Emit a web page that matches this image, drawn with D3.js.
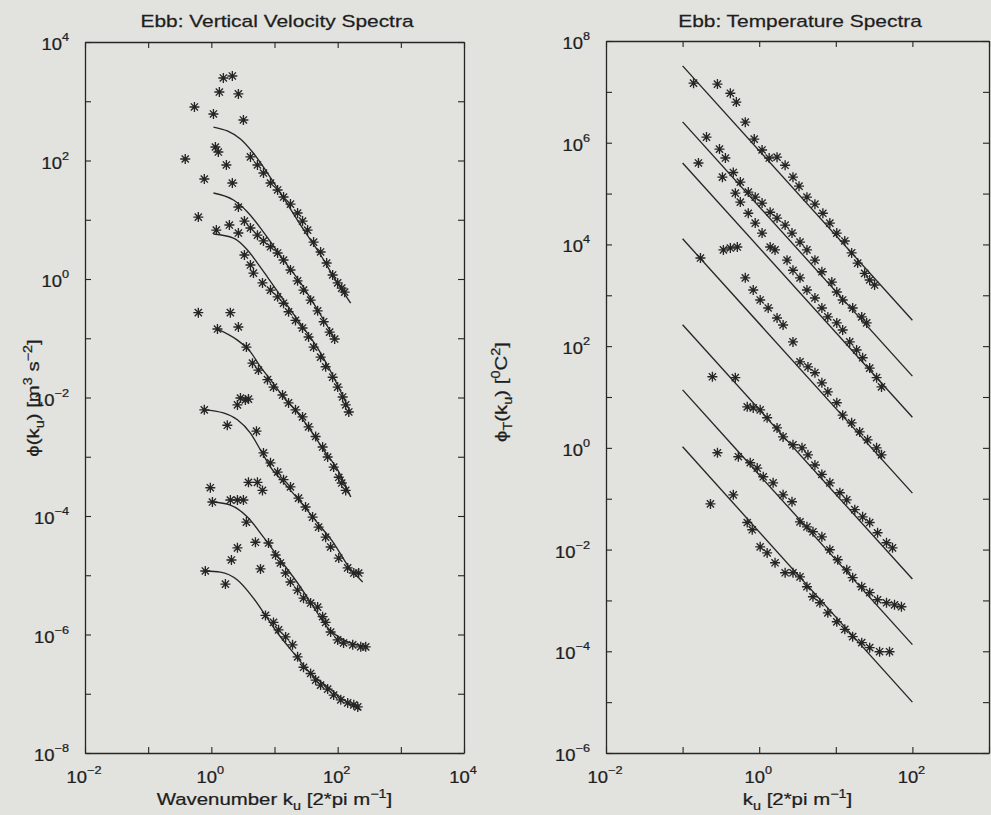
<!DOCTYPE html>
<html>
<head>
<meta charset="utf-8">
<script src="https://cdn.jsdelivr.net/npm/d3@7"></script>
<style>
  body { margin: 0; background: #e2e2de; }
  svg { display: block; }
  text { font-family: "Liberation Sans", Arial, sans-serif; fill: #1e1e1e; stroke: #1e1e1e; stroke-width: 0.25px; }
</style>
</head>
<body>
<svg id="fig" width="991" height="815"></svg>
<script>
// ---- left panel: vertical velocity spectra, [k, phi] ----
const vel1 = [[0.54,800],[1.08,610],[1.34,1430],[1.55,2470],[2.15,2670],[2.68,1330],[3.22,483],[4.16,115],[5.37,84],[6.69,61.5],[8.64,41.7],[11.2,31.8],[13.9,24.2],[17.9,18.4],[23.2,13.0],[27.8,9.5],[33.4,6.7],[41.6,4.2],[53.7,2.86],[66.9,1.86],[83.3,1.17],[100,0.86],[116,0.70],[129,0.60]];
const vel2 = [[0.386,106],[0.774,48.7],[1.16,169],[1.29,139],[1.73,84],[2.15,41.7],[2.68,16.4],[3.34,9.5],[4.16,7.26],[5.37,5.5],[6.69,4.4],[8.64,3.5],[11.2,2.75],[13.9,2.09],[17.9,1.42],[23.2,0.93],[28.8,0.65],[37.3,0.44],[48.2,0.29],[60,0.19],[74.6,0.127],[89.6,0.097]];
const vel3 = [[0.622,11.1],[1.20,6.7],[1.93,8.15],[2.68,5.97],[3.34,2.54],[4.16,1.72],[4.64,1.26],[6.45,0.86],[8.64,0.65],[11.2,0.50],[13.9,0.39],[16.7,0.28],[21.5,0.20],[27.8,0.149],[34.6,0.105],[41.6,0.071],[53.7,0.048],[64.5,0.033],[83.3,0.022],[100,0.015],[120,0.0102],[134,0.0075],[150,0.0057]];
const vel4 = [[0.622,0.27],[1.25,0.143],[2.0,0.27],[2.68,0.155],[3.59,0.071],[4.48,0.038],[5.57,0.029],[7.74,0.020],[9.64,0.015],[13.4,0.011],[16.7,0.0081],[21.5,0.0062],[27.8,0.0047],[34.6,0.0032],[44.8,0.0022],[57.8,0.00146],[69.4,0.00099],[86.4,0.00067],[104,0.00045],[116,0.00036],[134,0.00027]];
const vel5 = [[0.774,0.0062],[1.79,0.0034],[2.59,0.0075],[2.89,0.0098],[3.46,0.0091],[3.87,0.0094],[5.18,0.0027],[6.69,0.00116],[8.64,0.00079],[11.2,0.00055],[13.9,0.00041],[17.9,0.00031],[24.0,0.00020],[31.0,0.000142],[40.1,0.000096],[49.9,0.000065],[64.5,0.000044],[77.4,0.000030],[104,0.0000195],[144,0.0000133],[180,0.0000109],[215,0.0000109]];
const vel6 = [[0.964,0.0003],[1.04,0.000172],[2.0,0.000186],[2.59,0.000186],[3.22,0.000186],[3.87,0.00037],[5.37,0.00037],[6.45,0.00027],[3.59,0.000079],[4.99,0.000036],[8.03,0.000035],[10.4,0.000022],[12.4,0.0000161],[15.0,0.0000109],[17.9,0.0000077],[23.2,0.0000056],[28.8,0.0000041],[37.3,0.0000034],[48.2,0.0000029],[57.8,0.0000020],[64.5,0.0000016],[77.4,0.0000011],[100,0.00000081],[124,0.00000072],[173,0.00000067],[232,0.00000062],[278,0.00000062]];
const vel7 = [[0.803,0.0000118],[1.67,0.0000071],[2.08,0.0000181],[2.59,0.000029],[6.0,0.0000128],[7.2,0.0000021],[9.64,0.0000016],[11.6,0.0000012],[15.0,0.00000091],[19.3,0.00000067],[23.2,0.00000042],[28.8,0.00000028],[37.3,0.00000022],[44.8,0.00000017],[53.7,0.00000014],[69.4,0.00000012],[86.4,0.000000095],[112,0.000000079],[144,0.00000007],[180,0.000000065],[208,0.00000006]];

// model curves through the velocity spectra
const velFit1 = [[1.08,367],[1.79,315],[2.89,231],[4.48,139],[7.2,69],[12.4,28.3],[25.9,8.15],[53.7,2.54],[93,0.96],[161,0.39]];
const velFit2 = [[1.08,28.3],[2.24,21.5],[3.73,13.5],[6.69,6.2],[13.9,2.09],[25.9,0.86],[48.2,0.30],[93,0.093]];
const velFit3 = [[1.08,5.74],[2.24,4.9],[3.73,3.09],[5.37,1.86],[7.74,1.08],[13.9,0.44],[25.9,0.174],[48.2,0.068],[86.4,0.022],[161,0.0055]];
const velFit4 = [[1.25,0.143],[2.59,0.093],[4.16,0.059],[6.0,0.033],[8.64,0.020],[13.9,0.0102],[23.2,0.0055],[37.3,0.0028],[60,0.0013],[100,0.0006],[161,0.00021]];
const velFit5 = [[0.774,0.0062],[1.55,0.0055],[2.59,0.0042],[4.16,0.0025],[6.0,0.0013],[8.64,0.00067],[13.9,0.00037],[25.9,0.000172],[48.2,0.000076],[86.4,0.000035],[150,0.0000138],[249,0.0000077]];
const velFit6 = [[1.04,0.000172],[2.0,0.000153],[3.73,0.000096],[6.69,0.000044],[12.4,0.0000181],[23.2,0.0000074],[41.6,0.0000029],[69.4,0.0000013],[124,0.00000081],[299,0.00000062]];
const velFit7 = [[0.803,0.0000118],[1.39,0.0000113],[2.59,0.0000083],[4.64,0.0000041],[7.2,0.0000021],[11.2,0.00000106],[20.0,0.00000049],[37.3,0.00000022],[69.4,0.00000013],[124,0.000000079],[232,0.000000053]];

// ---- right panel: temperature spectra ----
const temp1 = [[0.139,1.48e7],[0.285,1.42e7],[0.42,9.4e6],[0.503,6.3e6],[0.658,2.54e6],[0.861,1.18e6],[1.09,7.2e5],[1.35,5.0e5],[1.71,5.2e5],[2.18,3.6e5],[2.76,2.1e5],[3.31,1.4e5],[4.2,8.5e4],[5.34,6.2e4],[6.78,4.1e4],[8.36,2.63e4],[10.3,1.67e4],[13.1,1.17e4],[16.1,6.8e3],[19.3,4.3e3],[23.8,2.7e3],[27.7,2.0e3],[32.1,1.59e3]];
const temp2 = [[0.205,1.29e6],[0.303,7.5e5],[0.362,5.0e5],[0.459,2.6e5],[0.567,1.68e5],[0.72,1.07e5],[0.887,8.5e4],[1.09,6.5e4],[1.39,4.3e4],[1.71,3.3e4],[2.18,2.4e4],[2.68,1.67e4],[3.41,1.11e4],[4.2,7.8e3],[5.34,4.9e3],[6.58,2.9e3],[8.87,1.82e3],[10.3,1.16e3],[12.3,809],[16.6,563],[21.8,375],[25.3,286]];
const temp3 = [[0.161,4.0e5],[0.331,2.1e5],[0.488,1.02e5],[0.567,6.8e4],[0.72,4.1e4],[0.887,2.63e4],[1.09,1.67e4],[1.39,8.9e3],[1.61,7.8e3],[2.31,4.9e3],[2.76,3.1e3],[3.41,2.2e3],[4.2,1.27e3],[5.34,885],[6.58,563],[7.87,375],[10.3,286],[12.3,208],[15.2,121],[18.7,84],[22.4,59],[27.7,37],[34.1,24],[39.5,15.8]];
const temp4 = [[0.171,5.4e3],[0.341,7.8e3],[0.42,8.5e3],[0.518,8.9e3],[0.658,2.2e3],[0.836,1.27e3],[1.03,809],[1.31,563],[1.71,358],[2.05,261],[2.76,121],[3.41,49],[4.33,39],[5.34,30],[6.58,19],[7.87,12.6],[10.3,7.7],[12.3,4.4],[16.1,3.1],[20.5,2.06],[26.0,1.44],[34.1,1.0],[39.5,0.73]];
const temp5 = [[0.245,25],[0.488,24],[0.698,6.4],[0.836,6.1],[1.03,5.6],[1.27,3.9],[1.71,2.47],[2.05,1.64],[2.76,1.15],[3.62,1.0],[4.33,0.73],[5.34,0.46],[6.58,0.30],[8.36,0.205],[11.3,0.131],[13.9,0.095],[17.7,0.061],[22.4,0.044],[27.7,0.034],[35.1,0.0214],[45.9,0.0136],[55.0,0.0108]];
const temp6 = [[0.285,0.80],[0.534,0.67],[0.764,0.51],[0.942,0.40],[1.13,0.27],[1.52,0.205],[2.05,0.119],[2.68,0.087],[3.41,0.035],[4.2,0.028],[5.03,0.0224],[6.58,0.0178],[8.36,0.0099],[10.6,0.0063],[13.9,0.0040],[16.6,0.0028],[21.8,0.00186],[27.7,0.00142],[35.1,0.00103],[45.9,0.0009],[58.4,0.00082],[71.9,0.00075]];
const temp7 = [[0.231,0.079],[0.459,0.119],[0.698,0.034],[0.811,0.0245],[1.03,0.0113],[1.27,0.0086],[1.61,0.0055],[2.18,0.0035],[2.76,0.0035],[3.41,0.0029],[4.2,0.00186],[5.03,0.00118],[6.2,0.0009],[7.87,0.00057],[10.3,0.00038],[13.1,0.00027],[16.6,0.000194],[21.8,0.000148],[27.7,0.000118],[37.3,0.000098],[50.3,0.000098]];

// straight -5/3 reference lines: value at k = 0.1 and at k = 100
const lineK = [0.1, 100];
const lineStart = [3.24e7, 2.57e6, 4.0e5, 1.29e4, 263, 13.8, 1.05];
const lineEnd = [324, 25.7, 4.0, 0.129, 0.00263, 1.35e-4, 1.0e-5];

// axis ticks (exponents)
const velXExp = [-2, -1, 0, 1, 2, 3, 4];
const velYExp = [-8, -7, -6, -5, -4, -3, -2, -1, 0, 1, 2, 3, 4];
const tempXExp = [-2, -1, 0, 1, 2, 3];
const tempYExp = [-6, -5, -4, -3, -2, -1, 0, 1, 2, 3, 4, 5, 6, 7, 8];

const svg = d3.select("#fig");
const ink = "#262626";
// the scanned lettering is wider than Liberation Sans
const sxTick = 1.15, sxTitle = 1.23, sxLabel = 1.2;

// asterisk marker, like matlab '*'
const star = "M-5,0H5M0,-5V5M-3.6,-3.6L3.6,3.6M-3.6,3.6L3.6,-3.6";

function powLabel(g, px, py, e, anchor) {
    let t = g.append("text")
        .attr("transform", "translate(" + px + "," + py + ") scale(" + sxTick + ",1)")
        .attr("text-anchor", anchor)
        .style("font-size", "16px");
    t.append("tspan").text("10");
    t.append("tspan").attr("dy", -9).style("font-size", "11px")
        .text(e < 0 ? "\u2212" + (-e) : String(e));
}

function drawPanel(p) {
    let x = d3.scaleLog().domain(p.xDomain).range([p.left, p.right]);
    let y = d3.scaleLog().domain(p.yDomain).range([p.bottom, p.top]);
    let g = svg.append("g");

    let xt = p.xExp.map(e => Math.pow(10, e));
    let yt = p.yExp.map(e => Math.pow(10, e));

    // frame + inward ticks on all four sides
    let axes = [
        [d3.axisBottom(x).tickValues(xt), "translate(0," + p.bottom + ")"],
        [d3.axisTop(x).tickValues(xt), "translate(0," + p.top + ")"],
        [d3.axisLeft(y).tickValues(yt), "translate(" + p.left + ",0)"],
        [d3.axisRight(y).tickValues(yt), "translate(" + p.right + ",0)"]
    ];
    axes.forEach(a => {
        let ax = g.append("g").attr("transform", a[1])
            .call(a[0].tickSize(-6).tickSizeOuter(0).tickFormat(""));
        ax.select(".domain").attr("stroke", ink).attr("stroke-width", 1.3);
        ax.selectAll(".tick line").attr("stroke", ink).attr("stroke-width", 1.1);
    });

    // tick labels on even decades
    p.xExp.filter(e => e % 2 === 0).forEach(e => {
        powLabel(g, x(Math.pow(10, e)) - 1, p.bottom + 30, e, "middle");
    });
    p.yExp.filter(e => e % 2 === 0).forEach(e => {
        powLabel(g, p.left - 16, y(Math.pow(10, e)) + 8, e, "end");
    });

    let line = d3.line()
        .x(d => x(d[0]))
        .y(d => y(d[1]));

    // fitted / reference lines
    p.curves.forEach(c => {
        g.append("path")
            .datum(c)
            .attr("fill", "none")
            .attr("stroke", ink)
            .attr("stroke-width", 1.35)
            .attr("d", line.curve(p.smooth ? d3.curveMonotoneX : d3.curveLinear));
    });

    // asterisks
    p.series.forEach(s => {
        g.selectAll(null)
            .data(s)
            .enter()
            .append("path")
            .attr("transform", d => "translate(" + x(d[0]) + "," + y(d[1]) + ")")
            .attr("d", star)
            .attr("fill", "none")
            .attr("stroke", ink)
            .attr("stroke-width", 1.35);
    });

    // title
    g.append("text")
        .attr("transform", "translate(" + p.titleX + ",27) scale(" + sxTitle + ",1)")
        .attr("text-anchor", "middle")
        .style("font-size", "17px")
        .text(p.title);

    // x label
    let xl = g.append("text")
        .attr("transform", "translate(" + (p.left + p.right) / 2 + ",805) scale(" + sxLabel + ",1)")
        .attr("text-anchor", "middle")
        .style("font-size", "17px");
    xl.append("tspan").text(p.xLabel);
    xl.append("tspan").attr("dy", 5).style("font-size", "12px").text("u");
    xl.append("tspan").attr("dy", -5).text(" [2*pi m");
    xl.append("tspan").attr("dy", -7).style("font-size", "12px").text("\u22121");
    xl.append("tspan").attr("dy", 7).text("]");

    // y label (rotated)
    let yl = g.append("text")
        .attr("transform", "translate(" + p.yLabelX + "," + p.yLabelY + ") rotate(-90) scale(" + sxLabel + ",1)")
        .attr("text-anchor", "middle")
        .style("font-size", "17px");
    p.yLabel.forEach(part => {
        let ts = yl.append("tspan").text(part[0]);
        if (part[1]) ts.attr("dy", part[1]);
        if (part[2]) ts.style("font-size", part[2]);
    });
}

drawPanel({
    left: 85, right: 464, top: 42, bottom: 753,
    xDomain: [1e-2, 1e4], yDomain: [1e-8, 1e4],
    xExp: velXExp, yExp: velYExp,
    series: [vel1, vel2, vel3, vel4, vel5, vel6, vel7],
    curves: [velFit1, velFit2, velFit3, velFit4, velFit5, velFit6, velFit7],
    smooth: true,
    title: "Ebb: Vertical Velocity Spectra", titleX: 277,
    xLabel: "Wavenumber k",
    yLabelX: 39, yLabelY: 398,
    yLabel: [["\u03d5(k"], ["u", 5, "12px"], [")  [m", -5], ["3", -7, "12px"], [" s", 7], ["\u22122", -7, "12px"], ["]", 7]]
});

drawPanel({
    left: 606, right: 989, top: 41, bottom: 753,
    xDomain: [1e-2, 1e3], yDomain: [1e-6, 1e8],
    xExp: tempXExp, yExp: tempYExp,
    series: [temp1, temp2, temp3, temp4, temp5, temp6, temp7],
    curves: lineStart.map((v, i) => [[lineK[0], v], [lineK[1], lineEnd[i]]]),
    smooth: false,
    title: "Ebb: Temperature Spectra", titleX: 800,
    xLabel: "k",
    yLabelX: 507, yLabelY: 392,
    yLabel: [["\u03d5"], ["T", 5, "12px"], ["(k", -5], ["u", 5, "12px"], [") [", -5], ["0", -7, "12px"], ["C", 7], ["2", -7, "12px"], ["]", 7]]
});
</script>
</body>
</html>
